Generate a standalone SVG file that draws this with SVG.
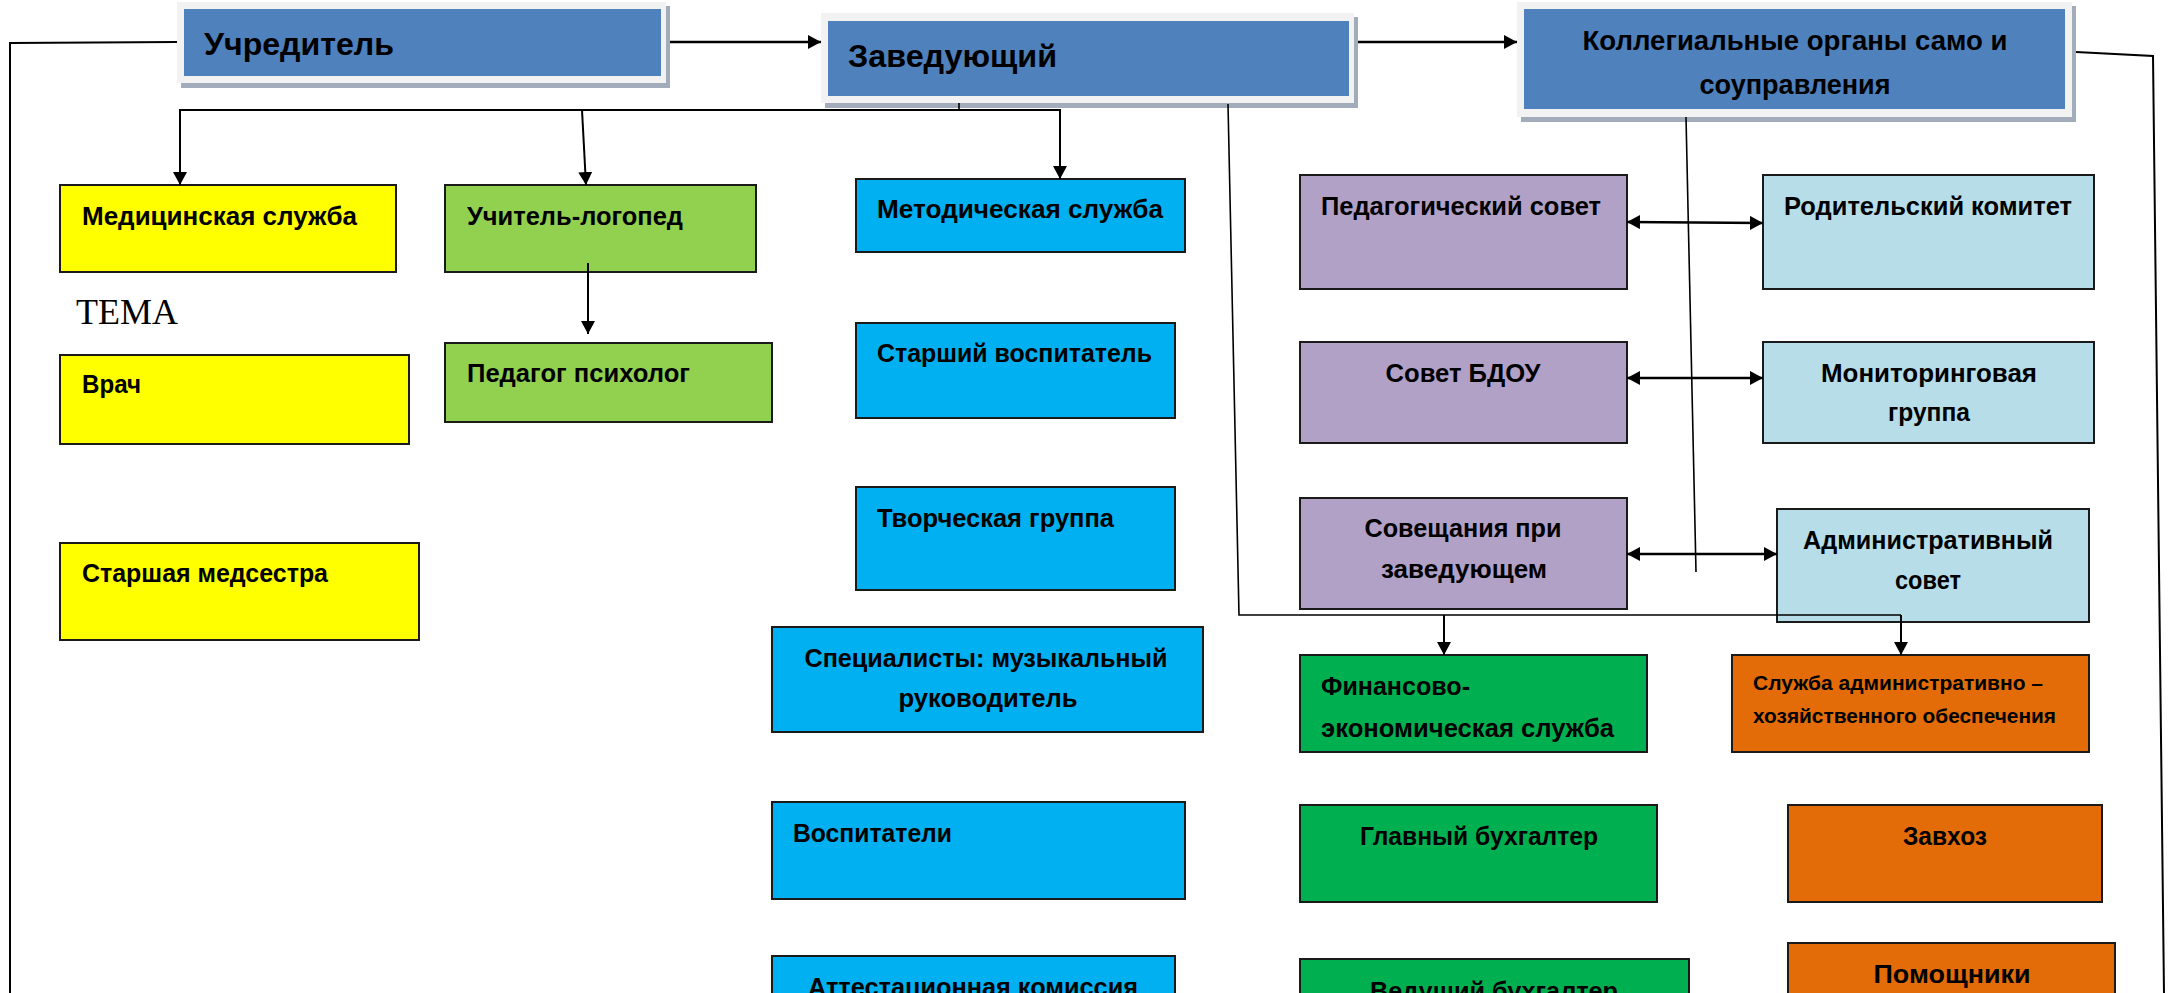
<svg xmlns="http://www.w3.org/2000/svg" width="2168" height="993" viewBox="0 0 2168 993">
<style>
.t{font-family:"Liberation Sans",Arial,sans-serif;font-weight:bold;font-size:26px;fill:#000}
.tl{font-size:32px}
.tk{font-size:27px}
.ts{font-size:21px}
.c{text-anchor:middle}
.box{stroke:#1a1a1a;stroke-width:2}
.frame{fill:#f2f2f2}
.shadow{fill:#a3acbb}
.hdr{fill:#4f81bd}
.yel{fill:#ffff00}
.lgr{fill:#92d050}
.cy{fill:#00b0f0}
.pu{fill:#b2a1c7}
.lb{fill:#b7dde8}
.gr{fill:#00b050}
.or{fill:#e36c09}
.ln{fill:none;stroke:#000;stroke-width:2}
.ar{fill:none;stroke:#000;stroke-width:2.5}
.thin{fill:none;stroke:#000;stroke-width:1.6}
</style>
<defs>
<marker id="ah" markerUnits="userSpaceOnUse" markerWidth="14" markerHeight="14" refX="13" refY="7" orient="auto-start-reverse">
<path d="M0,0 L13,7 L0,14 z" fill="#000"/>
</marker>
</defs>
<rect width="2168" height="993" fill="#fff"/>

<g id="uchreditel">
<rect class="shadow" x="181" y="6" width="489" height="82"/>
<rect class="frame" x="177" y="2" width="489" height="81"/>
<rect class="hdr" x="184" y="9" width="477" height="67"/>
<text class="t tl" x="204" y="55" textLength="190" lengthAdjust="spacingAndGlyphs">Учредитель</text>
</g>
<g id="zaveduyushchiy">
<rect class="shadow" x="825" y="17" width="533" height="91"/>
<rect class="frame" x="821" y="13" width="533" height="90"/>
<rect class="hdr" x="828" y="21" width="521" height="75"/>
<text class="t tl" x="848" y="67" textLength="209" lengthAdjust="spacingAndGlyphs">Заведующий</text>
</g>
<g id="kollegialnye">
<rect class="shadow" x="1521" y="6" width="555" height="116"/>
<rect class="frame" x="1517" y="2" width="555" height="115"/>
<rect class="hdr" x="1524" y="9" width="541" height="100"/>
<text class="t tk c" x="1795" y="50" textLength="425" lengthAdjust="spacingAndGlyphs">Коллегиальные органы само и</text>
<text class="t tk c" x="1795" y="94" textLength="191" lengthAdjust="spacingAndGlyphs">соуправления</text>
</g>

<g id="med">
<rect class="box yel" x="60" y="185" width="336" height="87"/>
<text class="t" x="82" y="225" textLength="275" lengthAdjust="spacingAndGlyphs">Медицинская служба</text>
</g>
<g id="tema">
<text x="76" y="324" font-family="'Liberation Serif','Times New Roman',serif" font-size="36" textLength="102" lengthAdjust="spacingAndGlyphs">ТЕМА</text>
</g>
<g id="vrach">
<rect class="box yel" x="60" y="355" width="349" height="89"/>
<text class="t" x="82" y="393" textLength="59" lengthAdjust="spacingAndGlyphs">Врач</text>
</g>
<g id="medsestra">
<rect class="box yel" x="60" y="543" width="359" height="97"/>
<text class="t" x="82" y="582" textLength="246" lengthAdjust="spacingAndGlyphs">Старшая медсестра</text>
</g>
<g id="logoped">
<rect class="box lgr" x="445" y="185" width="311" height="87"/>
<text class="t" x="467" y="225" textLength="216" lengthAdjust="spacingAndGlyphs">Учитель-логопед</text>
</g>
<g id="psiholog">
<rect class="box lgr" x="445" y="343" width="327" height="79"/>
<text class="t" x="467" y="382" textLength="223" lengthAdjust="spacingAndGlyphs">Педагог психолог</text>
</g>

<g id="metod">
<rect class="box cy" x="856" y="179" width="329" height="73"/>
<text class="t" x="877" y="218" textLength="286" lengthAdjust="spacingAndGlyphs">Методическая служба</text>
</g>
<g id="st-vosp">
<rect class="box cy" x="856" y="323" width="319" height="95"/>
<text class="t" x="877" y="362" textLength="275" lengthAdjust="spacingAndGlyphs">Старший воспитатель</text>
</g>
<g id="tvorch">
<rect class="box cy" x="856" y="487" width="319" height="103"/>
<text class="t" x="877" y="527" textLength="237" lengthAdjust="spacingAndGlyphs">Творческая группа</text>
</g>
<g id="spec">
<rect class="box cy" x="772" y="627" width="431" height="105"/>
<text class="t c" x="986" y="667" textLength="363" lengthAdjust="spacingAndGlyphs">Специалисты: музыкальный</text>
<text class="t c" x="988" y="707" textLength="179" lengthAdjust="spacingAndGlyphs">руководитель</text>
</g>
<g id="vosp">
<rect class="box cy" x="772" y="802" width="413" height="97"/>
<text class="t" x="793" y="842" textLength="159" lengthAdjust="spacingAndGlyphs">Воспитатели</text>
</g>
<g id="attest">
<rect class="box cy" x="772" y="956" width="403" height="60"/>
<text class="t c" x="973" y="996" textLength="330" lengthAdjust="spacingAndGlyphs">Аттестационная комиссия</text>
</g>

<g id="pedsovet">
<rect class="box pu" x="1300" y="175" width="327" height="114"/>
<text class="t" x="1321" y="215" textLength="280" lengthAdjust="spacingAndGlyphs">Педагогический совет</text>
</g>
<g id="sovet-bdou">
<rect class="box pu" x="1300" y="342" width="327" height="101"/>
<text class="t c" x="1463" y="382" textLength="155" lengthAdjust="spacingAndGlyphs">Совет БДОУ</text>
</g>
<g id="soveshch">
<rect class="box pu" x="1300" y="498" width="327" height="111"/>
<text class="t c" x="1463" y="537" textLength="197" lengthAdjust="spacingAndGlyphs">Совещания при</text>
<text class="t c" x="1464" y="578" textLength="166" lengthAdjust="spacingAndGlyphs">заведующем</text>
</g>

<g id="rodkom">
<rect class="box lb" x="1763" y="175" width="331" height="114"/>
<text class="t" x="1784" y="215" textLength="288" lengthAdjust="spacingAndGlyphs">Родительский комитет</text>
</g>
<g id="monitor">
<rect class="box lb" x="1763" y="342" width="331" height="101"/>
<text class="t c" x="1929" y="382" textLength="216" lengthAdjust="spacingAndGlyphs">Мониторинговая</text>
<text class="t c" x="1929" y="421" textLength="82" lengthAdjust="spacingAndGlyphs">группа</text>
</g>
<g id="adminsovet">
<rect class="box lb" x="1777" y="509" width="312" height="113"/>
<text class="t c" x="1928" y="549" textLength="250" lengthAdjust="spacingAndGlyphs">Административный</text>
<text class="t c" x="1928" y="589" textLength="66" lengthAdjust="spacingAndGlyphs">совет</text>
</g>

<g id="finans">
<rect class="box gr" x="1300" y="655" width="347" height="97"/>
<text class="t" x="1321" y="695" textLength="149" lengthAdjust="spacingAndGlyphs">Финансово-</text>
<text class="t" x="1321" y="737" textLength="293" lengthAdjust="spacingAndGlyphs">экономическая служба</text>
</g>
<g id="glavbuh">
<rect class="box gr" x="1300" y="805" width="357" height="97"/>
<text class="t c" x="1479" y="845" textLength="238" lengthAdjust="spacingAndGlyphs">Главный бухгалтер</text>
</g>
<g id="vedbuh">
<rect class="box gr" x="1300" y="959" width="389" height="60"/>
<text class="t c" x="1494" y="1000" textLength="248" lengthAdjust="spacingAndGlyphs">Ведущий бухгалтер</text>
</g>

<g id="ahch">
<rect class="box or" x="1732" y="655" width="357" height="97"/>
<text class="t ts" x="1753" y="690" textLength="290" lengthAdjust="spacingAndGlyphs">Служба административно –</text>
<text class="t ts" x="1753" y="723" textLength="303" lengthAdjust="spacingAndGlyphs">хозяйственного обеспечения</text>
</g>
<g id="zavhoz">
<rect class="box or" x="1788" y="805" width="314" height="97"/>
<text class="t c" x="1945" y="845" textLength="84" lengthAdjust="spacingAndGlyphs">Завхоз</text>
</g>
<g id="pomoshchniki">
<rect class="box or" x="1788" y="943" width="327" height="70"/>
<text class="t c" x="1952" y="983" textLength="157" lengthAdjust="spacingAndGlyphs">Помощники</text>
</g>

<g id="connectors">
<line class="ar" x1="670" y1="42" x2="821" y2="42" marker-end="url(#ah)"/>
<line class="ar" x1="1358" y1="42" x2="1517" y2="42" marker-end="url(#ah)"/>
<polyline class="ln" points="177,42 10,43 10,993"/>
<polyline class="ln" points="2076,52 2153,56 2164,993"/>
<line class="thin" x1="959" y1="103" x2="959" y2="110"/>
<line class="ln" x1="179" y1="110" x2="1061" y2="110"/>
<line class="ln" x1="180" y1="110" x2="180" y2="185" marker-end="url(#ah)"/>
<line class="ln" x1="582" y1="110" x2="586" y2="185" marker-end="url(#ah)"/>
<line class="ln" x1="1060" y1="110" x2="1060" y2="179" marker-end="url(#ah)"/>
<line class="ln" x1="588" y1="263" x2="588" y2="334" marker-end="url(#ah)"/>
<polyline class="thin" points="1228,104 1239,615 1901,615"/>
<line class="ln" x1="1901" y1="615" x2="1901" y2="655" marker-end="url(#ah)"/>
<line class="ln" x1="1444" y1="615" x2="1444" y2="655" marker-end="url(#ah)"/>
<line class="thin" x1="1686" y1="117" x2="1696" y2="572"/>
<line class="ar" x1="1627" y1="222" x2="1763" y2="223" marker-start="url(#ah)" marker-end="url(#ah)"/>
<line class="ar" x1="1627" y1="378" x2="1763" y2="378" marker-start="url(#ah)" marker-end="url(#ah)"/>
<line class="ar" x1="1627" y1="554" x2="1777" y2="554" marker-start="url(#ah)" marker-end="url(#ah)"/>
</g>
</svg>
